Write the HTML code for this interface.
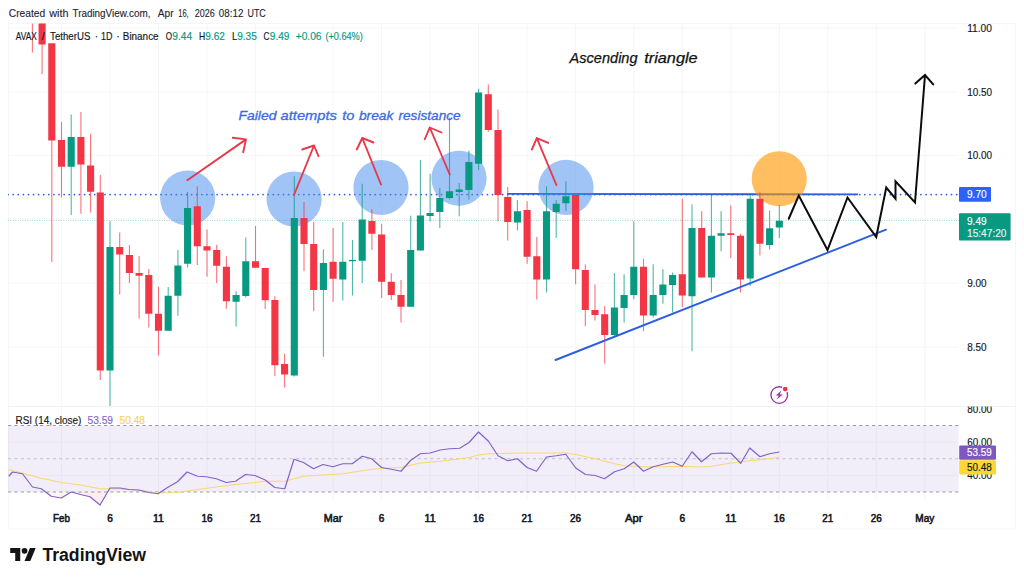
<!DOCTYPE html>
<html><head><meta charset="utf-8"><title>AVAX chart</title>
<style>
html,body{margin:0;padding:0;background:#fff;}
body{width:1024px;height:581px;overflow:hidden;font-family:"Liberation Sans",sans-serif;}
svg{display:block}
text{font-family:"Liberation Sans",sans-serif;}
</style></head><body>
<svg width="1024" height="581" viewBox="0 0 1024 581">
<rect width="1024" height="581" fill="#fff"/>
<defs>
<clipPath id="mainclip"><rect x="8" y="23.5" width="951" height="383"/></clipPath>
<clipPath id="rsiclip"><rect x="8" y="406.5" width="1008" height="123"/></clipPath>
</defs>

<g stroke="#f5f6f8" stroke-width="1" fill="none">
<rect x="8.5" y="23.5" width="1007" height="505.5"/>
<line x1="8" y1="406.5" x2="1016" y2="406.5" stroke="#f0f1f4"/>
<line x1="61.5" y1="24" x2="61.5" y2="500"/>
<line x1="110.0" y1="24" x2="110.0" y2="500"/>
<line x1="158.5" y1="24" x2="158.5" y2="500"/>
<line x1="207.0" y1="24" x2="207.0" y2="500"/>
<line x1="255.5" y1="24" x2="255.5" y2="500"/>
<line x1="333.1" y1="24" x2="333.1" y2="500"/>
<line x1="381.6" y1="24" x2="381.6" y2="500"/>
<line x1="430.1" y1="24" x2="430.1" y2="500"/>
<line x1="478.6" y1="24" x2="478.6" y2="500"/>
<line x1="527.1" y1="24" x2="527.1" y2="500"/>
<line x1="575.6" y1="24" x2="575.6" y2="500"/>
<line x1="633.8" y1="24" x2="633.8" y2="500"/>
<line x1="682.3" y1="24" x2="682.3" y2="500"/>
<line x1="730.8" y1="24" x2="730.8" y2="500"/>
<line x1="779.3" y1="24" x2="779.3" y2="500"/>
<line x1="827.8" y1="24" x2="827.8" y2="500"/>
<line x1="876.3" y1="24" x2="876.3" y2="500"/>
<line x1="924.8" y1="24" x2="924.8" y2="500"/>
<line x1="9" y1="28" x2="958" y2="28"/>
<line x1="9" y1="92" x2="958" y2="92"/>
<line x1="9" y1="155.5" x2="958" y2="155.5"/>
<line x1="9" y1="219" x2="958" y2="219"/>
<line x1="9" y1="283" x2="958" y2="283"/>
<line x1="9" y1="347" x2="958" y2="347"/>
<line x1="9" y1="442" x2="958" y2="442"/>
<line x1="9" y1="475.4" x2="958" y2="475.4"/>
</g>
<g clip-path="url(#mainclip)">
<line x1="8" y1="220.5" x2="959" y2="220.5" stroke="#089981" stroke-opacity="0.38" stroke-width="1" stroke-dasharray="1 1.4"/>
<line x1="8" y1="194.6" x2="959" y2="194.6" stroke="#2e62e6" stroke-width="1.7" stroke-dasharray="0.1 5" stroke-linecap="round"/>
<line x1="507" y1="193.9" x2="858" y2="194.4" stroke="#2b5fe3" stroke-width="1.9"/>
<circle cx="187.7" cy="198.1" r="27.6" fill="rgb(65,137,237)" fill-opacity="0.5"/>
<circle cx="294.1" cy="199.1" r="27.6" fill="rgb(65,137,237)" fill-opacity="0.5"/>
<circle cx="381" cy="187.5" r="27.6" fill="rgb(65,137,237)" fill-opacity="0.5"/>
<circle cx="459" cy="178.25" r="27.6" fill="rgb(65,137,237)" fill-opacity="0.5"/>
<circle cx="566" cy="187.4" r="27.6" fill="rgb(65,137,237)" fill-opacity="0.5"/>
<circle cx="779.25" cy="178.75" r="27.6" fill="rgb(255,152,0)" fill-opacity="0.62"/>
<line x1="32.40" y1="10" x2="32.40" y2="52.5" stroke="#f23645" stroke-width="1.1" stroke-opacity="0.7"/>
<rect x="28.85" y="10" width="7.1" height="12.00" fill="#f23645"/>
<line x1="42.10" y1="10" x2="42.10" y2="74" stroke="#f23645" stroke-width="1.1" stroke-opacity="0.7"/>
<rect x="38.55" y="10" width="7.1" height="34.50" fill="#f23645"/>
<line x1="51.80" y1="43.3" x2="51.80" y2="262" stroke="#f23645" stroke-width="1.1" stroke-opacity="0.7"/>
<rect x="48.25" y="43.3" width="7.1" height="97.20" fill="#f23645"/>
<line x1="61.50" y1="122" x2="61.50" y2="197.5" stroke="#f23645" stroke-width="1.1" stroke-opacity="0.7"/>
<rect x="57.95" y="140" width="7.1" height="26.75" fill="#f23645"/>
<line x1="71.20" y1="114.5" x2="71.20" y2="215" stroke="#089981" stroke-width="1.1" stroke-opacity="0.7"/>
<rect x="67.65" y="137" width="7.1" height="29.75" fill="#089981"/>
<line x1="80.90" y1="112" x2="80.90" y2="213.75" stroke="#f23645" stroke-width="1.1" stroke-opacity="0.7"/>
<rect x="77.35" y="137" width="7.1" height="27.50" fill="#f23645"/>
<line x1="90.60" y1="133.75" x2="90.60" y2="212.5" stroke="#f23645" stroke-width="1.1" stroke-opacity="0.7"/>
<rect x="87.05" y="165.5" width="7.1" height="26.25" fill="#f23645"/>
<line x1="100.30" y1="175" x2="100.30" y2="380" stroke="#f23645" stroke-width="1.1" stroke-opacity="0.7"/>
<rect x="96.75" y="192.5" width="7.1" height="178.00" fill="#f23645"/>
<line x1="110.00" y1="221.25" x2="110.00" y2="406" stroke="#089981" stroke-width="1.1" stroke-opacity="0.7"/>
<rect x="106.45" y="247" width="7.1" height="123.50" fill="#089981"/>
<line x1="119.70" y1="232.5" x2="119.70" y2="294.5" stroke="#f23645" stroke-width="1.1" stroke-opacity="0.7"/>
<rect x="116.15" y="247" width="7.1" height="7.50" fill="#f23645"/>
<line x1="129.40" y1="245" x2="129.40" y2="283" stroke="#f23645" stroke-width="1.1" stroke-opacity="0.7"/>
<rect x="125.85" y="255" width="7.1" height="18.00" fill="#f23645"/>
<line x1="139.10" y1="256" x2="139.10" y2="318.75" stroke="#f23645" stroke-width="1.1" stroke-opacity="0.7"/>
<rect x="135.55" y="273" width="7.1" height="2.75" fill="#f23645"/>
<line x1="148.80" y1="269" x2="148.80" y2="327.5" stroke="#f23645" stroke-width="1.1" stroke-opacity="0.7"/>
<rect x="145.25" y="275" width="7.1" height="38.75" fill="#f23645"/>
<line x1="158.50" y1="287" x2="158.50" y2="355.5" stroke="#f23645" stroke-width="1.1" stroke-opacity="0.7"/>
<rect x="154.95" y="313.75" width="7.1" height="17.00" fill="#f23645"/>
<line x1="168.20" y1="287" x2="168.20" y2="330.75" stroke="#089981" stroke-width="1.1" stroke-opacity="0.7"/>
<rect x="164.65" y="295.75" width="7.1" height="35.00" fill="#089981"/>
<line x1="177.90" y1="250" x2="177.90" y2="315.75" stroke="#089981" stroke-width="1.1" stroke-opacity="0.7"/>
<rect x="174.35" y="265.5" width="7.1" height="30.25" fill="#089981"/>
<line x1="187.60" y1="192" x2="187.60" y2="267.5" stroke="#089981" stroke-width="1.1" stroke-opacity="0.7"/>
<rect x="184.05" y="208" width="7.1" height="55.75" fill="#089981"/>
<line x1="197.30" y1="186.25" x2="197.30" y2="265" stroke="#f23645" stroke-width="1.1" stroke-opacity="0.7"/>
<rect x="193.75" y="206.25" width="7.1" height="40.00" fill="#f23645"/>
<line x1="207.00" y1="229.5" x2="207.00" y2="276.75" stroke="#f23645" stroke-width="1.1" stroke-opacity="0.7"/>
<rect x="203.45" y="246.25" width="7.1" height="4.25" fill="#f23645"/>
<line x1="216.70" y1="245" x2="216.70" y2="283" stroke="#f23645" stroke-width="1.1" stroke-opacity="0.7"/>
<rect x="213.15" y="250" width="7.1" height="15.75" fill="#f23645"/>
<line x1="226.40" y1="256.25" x2="226.40" y2="308.75" stroke="#f23645" stroke-width="1.1" stroke-opacity="0.7"/>
<rect x="222.85" y="266.75" width="7.1" height="34.50" fill="#f23645"/>
<line x1="236.10" y1="291.25" x2="236.10" y2="326.5" stroke="#089981" stroke-width="1.1" stroke-opacity="0.7"/>
<rect x="232.55" y="295" width="7.1" height="6.75" fill="#089981"/>
<line x1="245.80" y1="237.5" x2="245.80" y2="297.5" stroke="#089981" stroke-width="1.1" stroke-opacity="0.7"/>
<rect x="242.25" y="261.25" width="7.1" height="34.75" fill="#089981"/>
<line x1="255.50" y1="226" x2="255.50" y2="268" stroke="#f23645" stroke-width="1.1" stroke-opacity="0.7"/>
<rect x="251.95" y="261.25" width="7.1" height="6.50" fill="#f23645"/>
<line x1="265.20" y1="268" x2="265.20" y2="309" stroke="#f23645" stroke-width="1.1" stroke-opacity="0.7"/>
<rect x="261.65" y="268" width="7.1" height="32.25" fill="#f23645"/>
<line x1="274.90" y1="296.2" x2="274.90" y2="376" stroke="#f23645" stroke-width="1.1" stroke-opacity="0.7"/>
<rect x="271.35" y="300" width="7.1" height="65.20" fill="#f23645"/>
<line x1="284.60" y1="353.75" x2="284.60" y2="387.5" stroke="#f23645" stroke-width="1.1" stroke-opacity="0.7"/>
<rect x="281.05" y="364" width="7.1" height="10.50" fill="#f23645"/>
<line x1="294.30" y1="176.25" x2="294.30" y2="376.5" stroke="#089981" stroke-width="1.1" stroke-opacity="0.7"/>
<rect x="290.75" y="218" width="7.1" height="157.50" fill="#089981"/>
<line x1="304.00" y1="202" x2="304.00" y2="271.25" stroke="#f23645" stroke-width="1.1" stroke-opacity="0.7"/>
<rect x="300.45" y="218" width="7.1" height="26.00" fill="#f23645"/>
<line x1="313.70" y1="222" x2="313.70" y2="311.25" stroke="#f23645" stroke-width="1.1" stroke-opacity="0.7"/>
<rect x="310.15" y="244" width="7.1" height="46.00" fill="#f23645"/>
<line x1="323.40" y1="249.25" x2="323.40" y2="356.75" stroke="#089981" stroke-width="1.1" stroke-opacity="0.7"/>
<rect x="319.85" y="263" width="7.1" height="27.00" fill="#089981"/>
<line x1="333.10" y1="228" x2="333.10" y2="301.75" stroke="#f23645" stroke-width="1.1" stroke-opacity="0.7"/>
<rect x="329.55" y="261.75" width="7.1" height="17.00" fill="#f23645"/>
<line x1="342.80" y1="222" x2="342.80" y2="300.5" stroke="#089981" stroke-width="1.1" stroke-opacity="0.7"/>
<rect x="339.25" y="261.75" width="7.1" height="17.75" fill="#089981"/>
<line x1="352.50" y1="240" x2="352.50" y2="295.5" stroke="#089981" stroke-width="1.1" stroke-opacity="0.7"/>
<rect x="348.95" y="260" width="7.1" height="1.20" fill="#089981"/>
<line x1="362.20" y1="183.75" x2="362.20" y2="283" stroke="#089981" stroke-width="1.1" stroke-opacity="0.7"/>
<rect x="358.65" y="219.5" width="7.1" height="41.25" fill="#089981"/>
<line x1="371.90" y1="209.25" x2="371.90" y2="250" stroke="#f23645" stroke-width="1.1" stroke-opacity="0.7"/>
<rect x="368.35" y="221" width="7.1" height="12.75" fill="#f23645"/>
<line x1="381.60" y1="223.75" x2="381.60" y2="298" stroke="#f23645" stroke-width="1.1" stroke-opacity="0.7"/>
<rect x="378.05" y="234.5" width="7.1" height="47.25" fill="#f23645"/>
<line x1="391.30" y1="273.25" x2="391.30" y2="300" stroke="#f23645" stroke-width="1.1" stroke-opacity="0.7"/>
<rect x="387.75" y="281.75" width="7.1" height="13.25" fill="#f23645"/>
<line x1="401.00" y1="280" x2="401.00" y2="322.5" stroke="#f23645" stroke-width="1.1" stroke-opacity="0.7"/>
<rect x="397.45" y="295" width="7.1" height="11.75" fill="#f23645"/>
<line x1="410.70" y1="215.75" x2="410.70" y2="306.75" stroke="#089981" stroke-width="1.1" stroke-opacity="0.7"/>
<rect x="407.15" y="250" width="7.1" height="56.75" fill="#089981"/>
<line x1="420.40" y1="160" x2="420.40" y2="250.5" stroke="#089981" stroke-width="1.1" stroke-opacity="0.7"/>
<rect x="416.85" y="215.5" width="7.1" height="35.00" fill="#089981"/>
<line x1="430.10" y1="173.75" x2="430.10" y2="221.25" stroke="#089981" stroke-width="1.1" stroke-opacity="0.7"/>
<rect x="426.55" y="213" width="7.1" height="3.00" fill="#089981"/>
<line x1="439.80" y1="188" x2="439.80" y2="228" stroke="#089981" stroke-width="1.1" stroke-opacity="0.7"/>
<rect x="436.25" y="198" width="7.1" height="14.00" fill="#089981"/>
<line x1="449.50" y1="117.5" x2="449.50" y2="199.5" stroke="#089981" stroke-width="1.1" stroke-opacity="0.7"/>
<rect x="445.95" y="191.25" width="7.1" height="6.75" fill="#089981"/>
<line x1="459.20" y1="183" x2="459.20" y2="216.25" stroke="#089981" stroke-width="1.1" stroke-opacity="0.7"/>
<rect x="455.65" y="189.5" width="7.1" height="2.50" fill="#089981"/>
<line x1="468.90" y1="150.5" x2="468.90" y2="199.5" stroke="#089981" stroke-width="1.1" stroke-opacity="0.7"/>
<rect x="465.35" y="162" width="7.1" height="28.00" fill="#089981"/>
<line x1="478.60" y1="88.75" x2="478.60" y2="170" stroke="#089981" stroke-width="1.1" stroke-opacity="0.7"/>
<rect x="475.05" y="92.5" width="7.1" height="71.25" fill="#089981"/>
<line x1="488.30" y1="84.5" x2="488.30" y2="131.75" stroke="#f23645" stroke-width="1.1" stroke-opacity="0.7"/>
<rect x="484.75" y="94.25" width="7.1" height="35.75" fill="#f23645"/>
<line x1="498.00" y1="109.5" x2="498.00" y2="221.25" stroke="#f23645" stroke-width="1.1" stroke-opacity="0.7"/>
<rect x="494.45" y="130" width="7.1" height="65.00" fill="#f23645"/>
<line x1="507.70" y1="187" x2="507.70" y2="240.5" stroke="#f23645" stroke-width="1.1" stroke-opacity="0.7"/>
<rect x="504.15" y="197" width="7.1" height="25.00" fill="#f23645"/>
<line x1="517.40" y1="200" x2="517.40" y2="230.5" stroke="#089981" stroke-width="1.1" stroke-opacity="0.7"/>
<rect x="513.85" y="211.25" width="7.1" height="11.25" fill="#089981"/>
<line x1="527.10" y1="201.25" x2="527.10" y2="263.75" stroke="#f23645" stroke-width="1.1" stroke-opacity="0.7"/>
<rect x="523.55" y="210" width="7.1" height="46.75" fill="#f23645"/>
<line x1="536.80" y1="237" x2="536.80" y2="299.5" stroke="#f23645" stroke-width="1.1" stroke-opacity="0.7"/>
<rect x="533.25" y="256.25" width="7.1" height="23.25" fill="#f23645"/>
<line x1="546.50" y1="186.25" x2="546.50" y2="292.5" stroke="#089981" stroke-width="1.1" stroke-opacity="0.7"/>
<rect x="542.95" y="211.25" width="7.1" height="68.25" fill="#089981"/>
<line x1="556.20" y1="200" x2="556.20" y2="238" stroke="#089981" stroke-width="1.1" stroke-opacity="0.7"/>
<rect x="552.65" y="203.75" width="7.1" height="8.25" fill="#089981"/>
<line x1="565.90" y1="181.25" x2="565.90" y2="211.25" stroke="#089981" stroke-width="1.1" stroke-opacity="0.7"/>
<rect x="562.35" y="196.25" width="7.1" height="7.00" fill="#089981"/>
<line x1="575.60" y1="195" x2="575.60" y2="284.25" stroke="#f23645" stroke-width="1.1" stroke-opacity="0.7"/>
<rect x="572.05" y="195" width="7.1" height="74.25" fill="#f23645"/>
<line x1="585.30" y1="264.5" x2="585.30" y2="326.25" stroke="#f23645" stroke-width="1.1" stroke-opacity="0.7"/>
<rect x="581.75" y="270" width="7.1" height="40.00" fill="#f23645"/>
<line x1="595.00" y1="284.5" x2="595.00" y2="320.5" stroke="#f23645" stroke-width="1.1" stroke-opacity="0.7"/>
<rect x="591.45" y="310" width="7.1" height="5.00" fill="#f23645"/>
<line x1="604.70" y1="306.25" x2="604.70" y2="363.75" stroke="#f23645" stroke-width="1.1" stroke-opacity="0.7"/>
<rect x="601.15" y="314.25" width="7.1" height="20.75" fill="#f23645"/>
<line x1="614.40" y1="273" x2="614.40" y2="337.5" stroke="#089981" stroke-width="1.1" stroke-opacity="0.7"/>
<rect x="610.85" y="307.5" width="7.1" height="27.50" fill="#089981"/>
<line x1="624.10" y1="274.25" x2="624.10" y2="322.5" stroke="#089981" stroke-width="1.1" stroke-opacity="0.7"/>
<rect x="620.55" y="295" width="7.1" height="13.00" fill="#089981"/>
<line x1="633.80" y1="221.25" x2="633.80" y2="299.25" stroke="#089981" stroke-width="1.1" stroke-opacity="0.7"/>
<rect x="630.25" y="266.75" width="7.1" height="28.25" fill="#089981"/>
<line x1="643.50" y1="258.75" x2="643.50" y2="331.25" stroke="#f23645" stroke-width="1.1" stroke-opacity="0.7"/>
<rect x="639.95" y="266.75" width="7.1" height="48.75" fill="#f23645"/>
<line x1="653.20" y1="264.25" x2="653.20" y2="317.5" stroke="#089981" stroke-width="1.1" stroke-opacity="0.7"/>
<rect x="649.65" y="295" width="7.1" height="20.50" fill="#089981"/>
<line x1="662.90" y1="269.25" x2="662.90" y2="303.75" stroke="#089981" stroke-width="1.1" stroke-opacity="0.7"/>
<rect x="659.35" y="284.5" width="7.1" height="10.50" fill="#089981"/>
<line x1="672.60" y1="272.5" x2="672.60" y2="312.5" stroke="#089981" stroke-width="1.1" stroke-opacity="0.7"/>
<rect x="669.05" y="275" width="7.1" height="10.00" fill="#089981"/>
<line x1="682.30" y1="198.75" x2="682.30" y2="307" stroke="#f23645" stroke-width="1.1" stroke-opacity="0.7"/>
<rect x="678.75" y="274.25" width="7.1" height="21.25" fill="#f23645"/>
<line x1="692.00" y1="204.25" x2="692.00" y2="351.25" stroke="#089981" stroke-width="1.1" stroke-opacity="0.7"/>
<rect x="688.45" y="228" width="7.1" height="68.25" fill="#089981"/>
<line x1="701.70" y1="211.25" x2="701.70" y2="277.5" stroke="#f23645" stroke-width="1.1" stroke-opacity="0.7"/>
<rect x="698.15" y="228" width="7.1" height="49.50" fill="#f23645"/>
<line x1="711.40" y1="195" x2="711.40" y2="292.5" stroke="#089981" stroke-width="1.1" stroke-opacity="0.7"/>
<rect x="707.85" y="235.75" width="7.1" height="41.75" fill="#089981"/>
<line x1="721.10" y1="211.25" x2="721.10" y2="251.25" stroke="#089981" stroke-width="1.1" stroke-opacity="0.7"/>
<rect x="717.55" y="233.25" width="7.1" height="2.50" fill="#089981"/>
<line x1="730.80" y1="205.5" x2="730.80" y2="258" stroke="#f23645" stroke-width="1.1" stroke-opacity="0.7"/>
<rect x="727.25" y="233.25" width="7.1" height="1.75" fill="#f23645"/>
<line x1="740.50" y1="233.75" x2="740.50" y2="292.5" stroke="#f23645" stroke-width="1.1" stroke-opacity="0.7"/>
<rect x="736.95" y="235.75" width="7.1" height="43.75" fill="#f23645"/>
<line x1="750.20" y1="193.5" x2="750.20" y2="286" stroke="#089981" stroke-width="1.1" stroke-opacity="0.7"/>
<rect x="746.65" y="198.75" width="7.1" height="79.75" fill="#089981"/>
<line x1="759.90" y1="192.5" x2="759.90" y2="255.5" stroke="#f23645" stroke-width="1.1" stroke-opacity="0.7"/>
<rect x="756.35" y="198.75" width="7.1" height="45.00" fill="#f23645"/>
<line x1="769.60" y1="210.5" x2="769.60" y2="249.5" stroke="#089981" stroke-width="1.1" stroke-opacity="0.7"/>
<rect x="766.05" y="228.25" width="7.1" height="16.75" fill="#089981"/>
<line x1="779.30" y1="205" x2="779.30" y2="238" stroke="#089981" stroke-width="1.1" stroke-opacity="0.7"/>
<rect x="775.75" y="220.75" width="7.1" height="6.75" fill="#089981"/>
<line x1="555.5" y1="360" x2="886" y2="229.7" stroke="#2b5fe3" stroke-width="1.9" stroke-linecap="round"/>
<path d="M187.3 180.3L246 139.4M232.8 137.8L246 139.4L243.2 152.2" stroke="#e8394c" stroke-width="1.9" fill="none" stroke-linecap="round" stroke-linejoin="round"/>
<path d="M294 195L314 145.5M302.25 149.5L314 145.5L318.5 156.25" stroke="#e8394c" stroke-width="1.9" fill="none" stroke-linecap="round" stroke-linejoin="round"/>
<path d="M381 184.5L362.25 138M356.75 149.5L362.25 138L373.5 142.5" stroke="#e8394c" stroke-width="1.9" fill="none" stroke-linecap="round" stroke-linejoin="round"/>
<path d="M449.75 174.5L429.75 127.5M424.75 139.25L429.75 127.5L441.5 132.5" stroke="#e8394c" stroke-width="1.9" fill="none" stroke-linecap="round" stroke-linejoin="round"/>
<path d="M556.4 185L536.8 138.1M531.9 149.5L536.8 138.1L548.2 142.9" stroke="#e8394c" stroke-width="1.9" fill="none" stroke-linecap="round" stroke-linejoin="round"/>
<path d="M788.75 218.75L798.75 195.5L827.5 250L847.5 197.5L876.25 237L886.25 187.5L895.5 198.75L895.5 181.25L915 202.5L925 75M915.3 83.6L925 75L933.2 84.4" stroke="#0c0c0c" stroke-width="2" fill="none" stroke-linejoin="miter" stroke-linecap="round"/>
<text x="569.5" y="63" font-size="14.2" font-style="italic" fill="#111" stroke="#111" stroke-width="0.25" textLength="68.1" lengthAdjust="spacingAndGlyphs">Ascending</text>
<text x="644.2" y="63" font-size="14.2" font-style="italic" fill="#111" stroke="#111" stroke-width="0.25" textLength="53.5" lengthAdjust="spacingAndGlyphs">triangle</text>
<text x="238.4" y="119.6" font-size="13.2" font-style="italic" fill="#3a6be6" stroke="#3a6be6" stroke-width="0.3" textLength="38.1" lengthAdjust="spacingAndGlyphs">Failed</text>
<text x="280.6" y="119.6" font-size="13.2" font-style="italic" fill="#3a6be6" stroke="#3a6be6" stroke-width="0.3" textLength="56.3" lengthAdjust="spacingAndGlyphs">attempts</text>
<text x="342.2" y="119.6" font-size="13.2" font-style="italic" fill="#3a6be6" stroke="#3a6be6" stroke-width="0.3" textLength="12.2" lengthAdjust="spacingAndGlyphs">to</text>
<text x="358.9" y="119.6" font-size="13.2" font-style="italic" fill="#3a6be6" stroke="#3a6be6" stroke-width="0.3" textLength="34.6" lengthAdjust="spacingAndGlyphs">break</text>
<text x="398.5" y="119.6" font-size="13.2" font-style="italic" fill="#3a6be6" stroke="#3a6be6" stroke-width="0.3" textLength="62.1" lengthAdjust="spacingAndGlyphs">resistance</text>
<g transform="translate(779.25 395)"><circle r="8.3" fill="none" stroke="#9530ad" stroke-width="1.35"/><path d="M2.3 -4.6L-3.5 0.4L-0.4 0.6L-2.7 4.7L3.5 -0.4L0.4 -0.6Z" fill="#9530ad"/><circle cx="5.95" cy="-5.9" r="3.5" fill="#fff"/><circle cx="5.95" cy="-5.9" r="2.35" fill="#e5364a"/></g>
</g>
<g clip-path="url(#rsiclip)">
<rect x="8" y="425.5" width="950.5" height="66.5" fill="#7e57c2" fill-opacity="0.1"/>
<line x1="8" y1="425.5" x2="958.5" y2="425.5" stroke="#9a9da6" stroke-width="1" stroke-dasharray="3.2 3.2"/>
<line x1="8" y1="458.75" x2="958.5" y2="458.75" stroke="#bfc1c9" stroke-width="1" stroke-dasharray="3.2 3.2"/>
<line x1="8" y1="492" x2="958.5" y2="492" stroke="#9a9da6" stroke-width="1" stroke-dasharray="3.2 3.2"/>
<polyline points="8.75,469.50 22.50,473.25 41.25,478.25 61.25,482.50 80.50,485.00 100.00,488.75 120.00,488.75 138.75,490.00 158.00,493.00 177.50,492.50 197.50,489.50 216.25,487.00 235.50,484.50 255.00,482.50 265.25,481.25 284.75,481.25 303.50,476.25 323.00,475.00 342.75,473.75 362.25,470.75 371.75,469.25 391.25,468.00 401.00,467.50 420.25,463.00 440.00,461.25 459.75,458.75 469.00,457.50 478.50,455.00 488.50,453.75 512.00,453.25 527.00,453.00 565.75,453.00 575.75,454.50 595.25,458.75 614.50,463.75 624.25,465.75 643.50,466.75 663.00,466.75 682.25,466.25 701.50,467.00 711.25,466.25 731.00,463.00 749.75,460.75 768.00,458.75 779.25,457.50" fill="none" stroke="#f7d76e" stroke-width="1.15" stroke-linejoin="round"/>
<polyline points="8.75,476.25 12.50,472.00 22.50,473.75 32.50,487.00 41.25,488.75 51.25,496.25 61.25,498.00 71.25,492.00 80.50,494.50 90.00,496.75 100.00,505.00 110.00,488.00 120.00,488.00 128.75,489.50 138.75,490.00 148.75,492.50 158.00,493.75 167.50,487.50 177.50,481.75 187.00,472.00 197.50,476.25 206.25,476.75 216.25,478.75 226.25,482.50 235.50,481.25 245.50,474.50 255.00,475.50 265.25,480.00 274.75,487.50 284.75,488.75 294.00,459.25 303.50,462.50 313.50,468.75 323.00,464.50 333.00,466.75 342.75,463.75 352.25,463.75 362.25,456.25 371.75,458.75 381.50,467.50 391.25,469.25 401.00,471.25 410.50,460.50 420.25,453.75 430.25,453.00 440.00,450.00 449.75,448.75 459.75,448.25 469.00,442.50 478.50,432.00 488.50,441.25 498.00,455.75 507.75,460.75 517.50,458.75 527.00,467.50 536.50,471.25 546.50,457.00 556.25,455.75 565.75,454.25 575.75,468.00 585.50,474.50 595.25,475.50 604.50,478.75 614.50,471.75 624.25,468.75 633.75,462.00 643.50,471.25 653.25,466.75 663.00,464.25 672.75,462.00 682.25,466.25 692.00,451.75 701.50,461.75 711.25,453.75 721.25,453.00 731.00,453.25 740.75,463.25 749.75,448.00 760.00,456.75 769.50,453.75 779.25,452.00" fill="none" stroke="#7e63c8" stroke-width="1.2" stroke-linejoin="round"/>
<path d="M41.25 492L51.25 496.25L61.25 498L71.25 492Z" fill="#f23645" fill-opacity="0.05"/>
<path d="M73 492L80.5 494.5L90 496.75L100 505L107 492Z" fill="#f23645" fill-opacity="0.09"/>
</g>
<text x="967.2" y="31.8" font-size="10" fill="#131722" stroke="#131722" stroke-width="0.15" textLength="24.8" lengthAdjust="spacingAndGlyphs">11.00</text>
<text x="967.2" y="95.6" font-size="10" fill="#131722" stroke="#131722" stroke-width="0.15" textLength="24.8" lengthAdjust="spacingAndGlyphs">10.50</text>
<text x="967.2" y="159.0" font-size="10" fill="#131722" stroke="#131722" stroke-width="0.15" textLength="24.8" lengthAdjust="spacingAndGlyphs">10.00</text>
<text x="967.2" y="286.6" font-size="10" fill="#131722" stroke="#131722" stroke-width="0.15" textLength="19.4" lengthAdjust="spacingAndGlyphs">9.00</text>
<text x="967.2" y="350.6" font-size="10" fill="#131722" stroke="#131722" stroke-width="0.15" textLength="19.4" lengthAdjust="spacingAndGlyphs">8.50</text>
<g clip-path="url(#rsiclip)">
<text x="967.2" y="412.6" font-size="10" fill="#131722" stroke="#131722" stroke-width="0.15" textLength="24.8" lengthAdjust="spacingAndGlyphs">80.00</text>
<text x="967.2" y="445.6" font-size="10" fill="#131722" stroke="#131722" stroke-width="0.15" textLength="24.8" lengthAdjust="spacingAndGlyphs">60.00</text>
<text x="967.2" y="479.0" font-size="10" fill="#131722" stroke="#131722" stroke-width="0.15" textLength="24.8" lengthAdjust="spacingAndGlyphs">40.00</text>
</g>
<rect x="959" y="187" width="32" height="14.8" rx="1" fill="#2962ff"/>
<text x="967" y="198" font-size="10" fill="#fff" stroke="#fff" stroke-width="0.15" textLength="19.6" lengthAdjust="spacingAndGlyphs">9.70</text>
<rect x="959" y="213.3" width="51.6" height="27.1" rx="1" fill="#089981"/>
<text x="967" y="224.6" font-size="10" fill="#fff" stroke="#fff" stroke-width="0.15" textLength="19.6" lengthAdjust="spacingAndGlyphs">9.49</text>
<text x="967" y="236.6" font-size="10" fill="#e6f5f2" stroke="#e6f5f2" stroke-width="0.15" textLength="39.5" lengthAdjust="spacingAndGlyphs">15:47:20</text>
<rect x="959.2" y="445.5" width="36.8" height="14.2" rx="1" fill="#7e57c2"/>
<text x="967" y="456.4" font-size="10" fill="#fff" stroke="#fff" stroke-width="0.15" textLength="24.8" lengthAdjust="spacingAndGlyphs">53.59</text>
<rect x="959.2" y="460.3" width="36.8" height="14.2" rx="1" fill="#fdd835"/>
<text x="967" y="471.2" font-size="10" fill="#131722" stroke="#131722" stroke-width="0.15" textLength="24.8" lengthAdjust="spacingAndGlyphs">50.48</text>
<text x="53.10" y="521.6" font-size="10" fill="#131722" stroke="#131722" stroke-width="0.15" textLength="16.8" lengthAdjust="spacingAndGlyphs" style="stroke-width:0.55">Feb</text>
<text x="107.20" y="521.6" font-size="10" fill="#131722" stroke="#131722" stroke-width="0.15" textLength="5.6" lengthAdjust="spacingAndGlyphs" style="stroke-width:0.55">6</text>
<text x="153.00" y="521.6" font-size="10" fill="#131722" stroke="#131722" stroke-width="0.15" textLength="11" lengthAdjust="spacingAndGlyphs" style="stroke-width:0.55">11</text>
<text x="201.50" y="521.6" font-size="10" fill="#131722" stroke="#131722" stroke-width="0.15" textLength="11" lengthAdjust="spacingAndGlyphs" style="stroke-width:0.55">16</text>
<text x="250.00" y="521.6" font-size="10" fill="#131722" stroke="#131722" stroke-width="0.15" textLength="11" lengthAdjust="spacingAndGlyphs" style="stroke-width:0.55">21</text>
<text x="323.85" y="521.6" font-size="10" fill="#131722" stroke="#131722" stroke-width="0.15" textLength="18.5" lengthAdjust="spacingAndGlyphs" style="stroke-width:0.55">Mar</text>
<text x="378.80" y="521.6" font-size="10" fill="#131722" stroke="#131722" stroke-width="0.15" textLength="5.6" lengthAdjust="spacingAndGlyphs" style="stroke-width:0.55">6</text>
<text x="424.60" y="521.6" font-size="10" fill="#131722" stroke="#131722" stroke-width="0.15" textLength="11" lengthAdjust="spacingAndGlyphs" style="stroke-width:0.55">11</text>
<text x="473.10" y="521.6" font-size="10" fill="#131722" stroke="#131722" stroke-width="0.15" textLength="11" lengthAdjust="spacingAndGlyphs" style="stroke-width:0.55">16</text>
<text x="521.60" y="521.6" font-size="10" fill="#131722" stroke="#131722" stroke-width="0.15" textLength="11" lengthAdjust="spacingAndGlyphs" style="stroke-width:0.55">21</text>
<text x="570.10" y="521.6" font-size="10" fill="#131722" stroke="#131722" stroke-width="0.15" textLength="11" lengthAdjust="spacingAndGlyphs" style="stroke-width:0.55">26</text>
<text x="625.05" y="521.6" font-size="10" fill="#131722" stroke="#131722" stroke-width="0.15" textLength="17.5" lengthAdjust="spacingAndGlyphs" style="stroke-width:0.55">Apr</text>
<text x="679.50" y="521.6" font-size="10" fill="#131722" stroke="#131722" stroke-width="0.15" textLength="5.6" lengthAdjust="spacingAndGlyphs" style="stroke-width:0.55">6</text>
<text x="725.30" y="521.6" font-size="10" fill="#131722" stroke="#131722" stroke-width="0.15" textLength="11" lengthAdjust="spacingAndGlyphs" style="stroke-width:0.55">11</text>
<text x="773.80" y="521.6" font-size="10" fill="#131722" stroke="#131722" stroke-width="0.15" textLength="11" lengthAdjust="spacingAndGlyphs" style="stroke-width:0.55">16</text>
<text x="822.30" y="521.6" font-size="10" fill="#131722" stroke="#131722" stroke-width="0.15" textLength="11" lengthAdjust="spacingAndGlyphs" style="stroke-width:0.55">21</text>
<text x="870.80" y="521.6" font-size="10" fill="#131722" stroke="#131722" stroke-width="0.15" textLength="11" lengthAdjust="spacingAndGlyphs" style="stroke-width:0.55">26</text>
<text x="915.30" y="521.6" font-size="10" fill="#131722" stroke="#131722" stroke-width="0.15" textLength="19" lengthAdjust="spacingAndGlyphs" style="stroke-width:0.55">May</text>
<text x="8.75" y="17" font-size="10.4" fill="#1e222d" stroke="#1e222d" stroke-width="0.15" textLength="36.4" lengthAdjust="spacingAndGlyphs" style="stroke-width:0.1">Created</text>
<text x="49.2" y="17" font-size="10.4" fill="#1e222d" stroke="#1e222d" stroke-width="0.15" textLength="19.2" lengthAdjust="spacingAndGlyphs" style="stroke-width:0.1">with</text>
<text x="72.5" y="17" font-size="10.4" fill="#1e222d" stroke="#1e222d" stroke-width="0.15" textLength="77.9" lengthAdjust="spacingAndGlyphs" style="stroke-width:0.1">TradingView.com,</text>
<text x="157.8" y="17" font-size="10.4" fill="#1e222d" stroke="#1e222d" stroke-width="0.15" textLength="15.8" lengthAdjust="spacingAndGlyphs" style="stroke-width:0.1">Apr</text>
<text x="178.3" y="17" font-size="10.4" fill="#1e222d" stroke="#1e222d" stroke-width="0.15" textLength="10.4" lengthAdjust="spacingAndGlyphs" style="stroke-width:0.1">16,</text>
<text x="194.7" y="17" font-size="10.4" fill="#1e222d" stroke="#1e222d" stroke-width="0.15" textLength="20.0" lengthAdjust="spacingAndGlyphs" style="stroke-width:0.1">2026</text>
<text x="218.8" y="17" font-size="10.4" fill="#1e222d" stroke="#1e222d" stroke-width="0.15" textLength="24.6" lengthAdjust="spacingAndGlyphs" style="stroke-width:0.1">08:12</text>
<text x="247.5" y="17" font-size="10.4" fill="#1e222d" stroke="#1e222d" stroke-width="0.15" textLength="18.3" lengthAdjust="spacingAndGlyphs" style="stroke-width:0.1">UTC</text>
<text x="15.8" y="40.2" font-size="10.3" fill="#131722" stroke="#131722" stroke-width="0.15" textLength="21" lengthAdjust="spacingAndGlyphs">AVAX</text>
<text x="41.7" y="40.2" font-size="10.3" fill="#131722" stroke="#131722" stroke-width="0.15">/</text>
<text x="50.1" y="40.2" font-size="10.3" fill="#131722" stroke="#131722" stroke-width="0.15" textLength="40.3" lengthAdjust="spacingAndGlyphs">TetherUS</text>
<text x="94.8" y="40.2" font-size="10.3" fill="#131722" stroke="#131722" stroke-width="0.15">·</text>
<text x="101.1" y="40.2" font-size="10.3" fill="#131722" stroke="#131722" stroke-width="0.15" textLength="11.5" lengthAdjust="spacingAndGlyphs">1D</text>
<text x="116.2" y="40.2" font-size="10.3" fill="#131722" stroke="#131722" stroke-width="0.15">·</text>
<text x="122.8" y="40.2" font-size="10.3" fill="#131722" stroke="#131722" stroke-width="0.15" textLength="35.8" lengthAdjust="spacingAndGlyphs">Binance</text>
<text x="165.8" y="40.2" font-size="10.3" fill="#131722" stroke="#131722" stroke-width="0.15" textLength="6.3" lengthAdjust="spacingAndGlyphs">O</text>
<text x="172.3" y="40.2" font-size="10.3" fill="#089981" stroke="#089981" stroke-width="0.15" textLength="19.9" lengthAdjust="spacingAndGlyphs">9.44</text>
<text x="198.9" y="40.2" font-size="10.3" fill="#131722" stroke="#131722" stroke-width="0.15" textLength="6.2" lengthAdjust="spacingAndGlyphs">H</text>
<text x="205.3" y="40.2" font-size="10.3" fill="#089981" stroke="#089981" stroke-width="0.15" textLength="19.6" lengthAdjust="spacingAndGlyphs">9.62</text>
<text x="231.9" y="40.2" font-size="10.3" fill="#131722" stroke="#131722" stroke-width="0.15" textLength="5.2" lengthAdjust="spacingAndGlyphs">L</text>
<text x="237.2" y="40.2" font-size="10.3" fill="#089981" stroke="#089981" stroke-width="0.15" textLength="19.6" lengthAdjust="spacingAndGlyphs">9.35</text>
<text x="263.5" y="40.2" font-size="10.3" fill="#131722" stroke="#131722" stroke-width="0.15" textLength="6.0" lengthAdjust="spacingAndGlyphs">C</text>
<text x="269.8" y="40.2" font-size="10.3" fill="#089981" stroke="#089981" stroke-width="0.15" textLength="19.6" lengthAdjust="spacingAndGlyphs">9.49</text>
<text x="295.7" y="40.2" font-size="10.3" fill="#089981" stroke="#089981" stroke-width="0.15" textLength="25.8" lengthAdjust="spacingAndGlyphs">+0.06</text>
<text x="325.4" y="40.2" font-size="10.3" fill="#089981" stroke="#089981" stroke-width="0.15" textLength="37.4" lengthAdjust="spacingAndGlyphs">(+0.64%)</text>
<text x="15.5" y="423.9" font-size="10.3" fill="#131722" stroke="#131722" stroke-width="0.15" textLength="65.8" lengthAdjust="spacingAndGlyphs">RSI (14, close)</text>
<text x="87.5" y="423.9" font-size="10.3" fill="#8268cb" stroke="#8268cb" stroke-width="0.15" textLength="25.5" lengthAdjust="spacingAndGlyphs">53.59</text>
<text x="119.5" y="423.9" font-size="10.3" fill="#f6d354" stroke="#f6d354" stroke-width="0.15" textLength="25.5" lengthAdjust="spacingAndGlyphs">50.48</text>
<g transform="translate(10.2 545.1) scale(0.718)" fill="#131313"><path d="M14 22H7V11H0V4h14v18zM28 22h-8l7.5-18h8L28 22z"/><circle cx="20" cy="8" r="4"/></g>
<text x="42.4" y="561.1" font-size="17.6" fill="#131313" stroke="#131313" stroke-width="0.15" textLength="103.6" lengthAdjust="spacingAndGlyphs" font-weight="bold" style="stroke-width:0">TradingView</text>
</svg></body></html>
